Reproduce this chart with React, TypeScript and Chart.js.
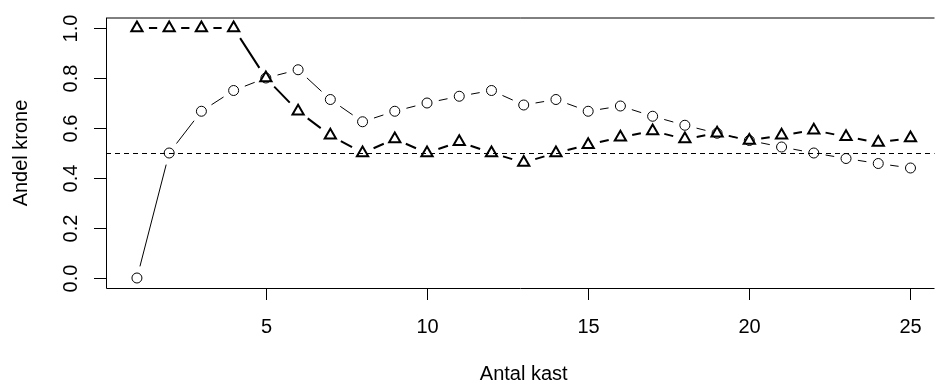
import React, { useEffect, useRef } from "react";
import { Chart, registerables } from "chart.js";

Chart.register(...registerables);

const flips = [1, 2, 3, 4, 5, 6, 7, 8, 9, 10, 11, 12, 13, 14, 15, 16, 17, 18, 19, 20, 21, 22, 23, 24, 25];
const circleSeries = [0, 0.5, 0.667, 0.75, 0.8, 0.833, 0.714, 0.625, 0.667, 0.7, 0.727, 0.75, 0.692, 0.714, 0.667, 0.688, 0.647, 0.611, 0.579, 0.55, 0.524, 0.5, 0.478, 0.458, 0.44];
const triangleSeries = [1, 1, 1, 1, 0.8, 0.667, 0.571, 0.5, 0.556, 0.5, 0.545, 0.5, 0.462, 0.5, 0.533, 0.563, 0.588, 0.556, 0.579, 0.55, 0.571, 0.591, 0.565, 0.542, 0.56];
const xTicks = [5, 10, 15, 20, 25];
const yTicks = [0, 0.2, 0.4, 0.6, 0.8, 1.0];
const yTickLabels = ["0.0", "0.2", "0.4", "0.6", "0.8", "1.0"];
const refLine = 0.5;
const xTitle = "Antal kast";
const yTitle = "Andel krone";
const xLim = [0.04, 25.96];
const yLim = [-0.04, 1.04];

const FONT = '20px "Liberation Sans", Arial, Helvetica, sans-serif';
const CW = 943;
const CH = 383;
const PLOT_LEFT = 106;
const PLOT_RIGHT_FULL = 950; // the R plot region extends past the visible edge
// visible portion of the x range (plot is clipped at the window edge)
const xVisibleMax = xLim[0] + (xLim[1] - xLim[0]) * ((CW - PLOT_LEFT) / (PLOT_RIGHT_FULL - PLOT_LEFT));

const rPlotPlugin = {
  id: "rplot",
  beforeDatasetsDraw(chart: any) {
    const ctx = chart.ctx;
    const ys = chart.scales.y;
    const area = chart.chartArea;
    ctx.save();
    ctx.strokeStyle = "#000";
    ctx.lineWidth = 1;
    ctx.setLineDash([5, 4]);
    const yr = Math.round(ys.getPixelForValue(refLine)) + 0.5;
    ctx.beginPath();
    ctx.moveTo(area.left, yr);
    ctx.lineTo(area.right, yr);
    ctx.stroke();
    ctx.setLineDash([]);
    const gap = 12;
    chart.data.datasets.forEach((ds: any, i: number) => {
      const meta = chart.getDatasetMeta(i);
      const pts = meta.data;
      ctx.lineWidth = ds.segWidth;
      ctx.lineCap = "butt";
      ctx.strokeStyle = "#000";
      ctx.beginPath();
      for (let k = 0; k < pts.length - 1; k++) {
        const p0 = pts[k];
        const p1 = pts[k + 1];
        const dx = p1.x - p0.x;
        const dy = p1.y - p0.y;
        const len = Math.hypot(dx, dy);
        if (len === 0) continue;
        const f = gap / len;
        if (f >= 0.5) continue;
        ctx.moveTo(p0.x + f * dx, p0.y + f * dy);
        ctx.lineTo(p1.x - f * dx, p1.y - f * dy);
      }
      ctx.stroke();
    });
    ctx.restore();
  },
  afterDraw(chart: any) {
    const ctx = chart.ctx;
    const xs = chart.scales.x;
    const ys = chart.scales.y;
    const area = chart.chartArea;
    ctx.save();
    ctx.strokeStyle = "#000";
    ctx.lineWidth = 1;
    ctx.beginPath();
    ctx.moveTo(area.left + 0.5, area.top);
    ctx.lineTo(area.left + 0.5, area.bottom + 0.5);
    ctx.lineTo(area.right, area.bottom + 0.5);
    ctx.moveTo(area.left, area.top);
    ctx.lineTo(area.right, area.top);
    ctx.stroke();
    ctx.fillStyle = "#000";
    ctx.font = FONT;
    ctx.textAlign = "center";
    ctx.textBaseline = "alphabetic";
    xTicks.forEach((v) => {
      const px = Math.round(xs.getPixelForValue(v)) + 0.5;
      ctx.beginPath();
      ctx.moveTo(px, area.bottom);
      ctx.lineTo(px, area.bottom + 12);
      ctx.stroke();
      ctx.fillText(String(v), px, area.bottom + 45);
    });
    yTicks.forEach((v, i) => {
      const py = Math.round(ys.getPixelForValue(v)) + 0.5;
      ctx.beginPath();
      ctx.moveTo(area.left, py);
      ctx.lineTo(area.left - 12, py);
      ctx.stroke();
      ctx.save();
      ctx.translate(area.left - 29, py);
      ctx.rotate(-Math.PI / 2);
      ctx.fillText(yTickLabels[i], 0, 0);
      ctx.restore();
    });
    const xMid = (xs.getPixelForValue(xLim[0]) + xs.getPixelForValue(xLim[1])) / 2;
    ctx.fillText(xTitle, xMid, 380);
    ctx.save();
    ctx.translate(27, (area.top + area.bottom) / 2);
    ctx.rotate(-Math.PI / 2);
    ctx.fillText(yTitle, 0, 0);
    ctx.restore();
    ctx.restore();
  },
};

export default function App() {
  const ref = useRef<HTMLCanvasElement>(null);
  useEffect(() => {
    document.body.style.margin = "0";
    document.body.style.overflow = "hidden";
    const canvas = ref.current!;
    const chart = new Chart(canvas, {
      type: "scatter",
      data: {
        datasets: [
          {
            data: flips.map((x, i) => ({ x, y: circleSeries[i] })),
            pointStyle: "circle",
            pointRadius: 5,
            pointBorderWidth: 1,
            pointBorderColor: "#000",
            pointBackgroundColor: "rgba(0,0,0,0)",
            showLine: false,
            segWidth: 1,
          } as any,
          {
            data: flips.map((x, i) => ({ x, y: triangleSeries[i] })),
            pointStyle: "triangle",
            pointRadius: 6.5,
            pointBorderWidth: 2,
            pointBorderColor: "#000",
            pointBackgroundColor: "rgba(0,0,0,0)",
            showLine: false,
            segWidth: 2,
          } as any,
        ],
      },
      options: {
        animation: false,
        responsive: false,
        devicePixelRatio: 1,
        layout: { padding: { left: PLOT_LEFT, top: 18, bottom: 95, right: 0 } },
        plugins: { legend: { display: false }, tooltip: { enabled: false } },
        events: [],
        scales: {
          x: { type: "linear", min: xLim[0], max: xVisibleMax, display: false },
          y: { type: "linear", min: yLim[0], max: yLim[1], display: false },
        },
      } as any,
      plugins: [rPlotPlugin],
    });
    return () => chart.destroy();
  }, []);
  return (
    <div style={{ position: "absolute", left: 0, top: 0, width: CW, height: CH, overflow: "hidden", background: "#fff" }}>
      <canvas ref={ref} width={CW} height={CH} style={{ display: "block", width: CW, height: CH }} />
    </div>
  );
}
